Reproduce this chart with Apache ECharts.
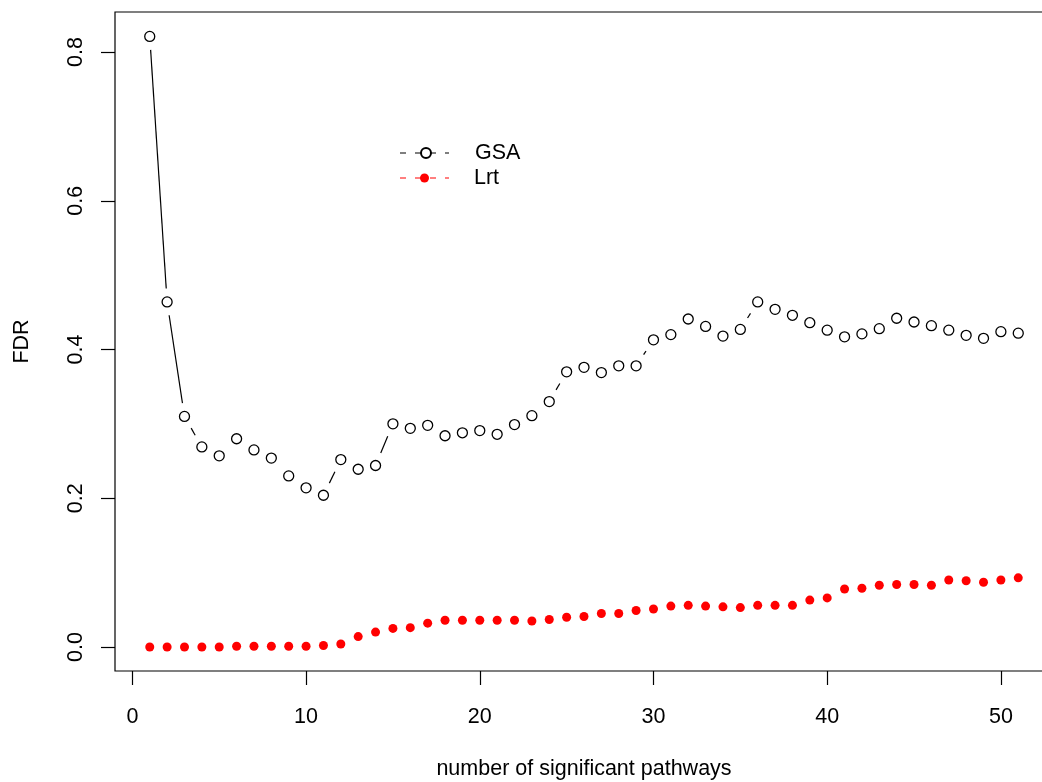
<!DOCTYPE html>
<html>
<head>
<meta charset="utf-8">
<title>FDR vs number of significant pathways</title>
<script src="https://cdn.jsdelivr.net/npm/echarts@6/dist/echarts.min.js"></script>
<style>
  html, body { margin: 0; padding: 0; background: #fff; }
  #chart { width: 1042px; height: 782px; }
</style>
</head>
<body>
<div id="chart"></div>
<script>
// number of significant pathways (x)
var pathways = [];
for (var k = 1; k <= 51; k++) pathways.push(k);

// FDR values
var gsa = [0.821, 0.464, 0.310, 0.269, 0.257, 0.280, 0.265, 0.254, 0.230, 0.214,
           0.204, 0.252, 0.239, 0.244, 0.300, 0.294, 0.298, 0.284, 0.288, 0.291,
           0.286, 0.299, 0.311, 0.330, 0.370, 0.376, 0.369, 0.378, 0.378, 0.413,
           0.420, 0.441, 0.431, 0.418, 0.427, 0.464, 0.454, 0.446, 0.436, 0.426,
           0.417, 0.421, 0.428, 0.442, 0.437, 0.432, 0.426, 0.419, 0.415, 0.424,
           0.422];
var lrt = [0.000, 0.000, 0.000, 0.000, 0.000, 0.001, 0.001, 0.001, 0.001, 0.001,
           0.002, 0.004, 0.014, 0.020, 0.025, 0.026, 0.032, 0.036, 0.036, 0.036,
           0.036, 0.036, 0.035, 0.037, 0.040, 0.041, 0.045, 0.045, 0.049, 0.051,
           0.055, 0.056, 0.055, 0.054, 0.053, 0.056, 0.056, 0.056, 0.063, 0.066,
           0.078, 0.079, 0.083, 0.084, 0.084, 0.083, 0.090, 0.089, 0.087, 0.090,
           0.093];

var xTicks = [0, 10, 20, 30, 40, 50];
var yTicks = [0, 0.2, 0.4, 0.6, 0.8];

var FONT = 'Liberation Sans, Arial, Helvetica, sans-serif';
var FS = 21.5;

function toPoints(xs, ys) {
  return xs.map(function (x, i) { return [x, ys[i]]; });
}

function toSegments(xs, ys) {
  var out = [];
  for (var i = 0; i < xs.length - 1; i++) out.push([xs[i], ys[i], xs[i + 1], ys[i + 1]]);
  return out;
}

// like R's type="b": each segment stops short of the points it joins
function gappedLine(gap, color) {
  return function (params, api) {
    var a = api.coord([api.value(0), api.value(1)]);
    var b = api.coord([api.value(2), api.value(3)]);
    var dx = b[0] - a[0], dy = b[1] - a[1];
    var len = Math.sqrt(dx * dx + dy * dy);
    if (len <= 2 * gap) return { type: 'group', children: [] };
    var ux = dx / len, uy = dy / len;
    return {
      type: 'line',
      shape: { x1: a[0] + ux * gap, y1: a[1] + uy * gap, x2: b[0] - ux * gap, y2: b[1] - uy * gap },
      style: { stroke: color, lineWidth: 1.2 }
    };
  };
}

function legendItem(name, top, iconSize) {
  return {
    data: [name], left: 420, top: top, padding: 0,
    itemWidth: iconSize, itemHeight: iconSize, selectedMode: false,
    formatter: function (n) { return '{gap| }' + n; },
    textStyle: {
      fontFamily: FONT, fontSize: FS, color: '#000',
      rich: { gap: { width: 49 - iconSize } }
    }
  };
}

var chart = echarts.init(document.getElementById('chart'), null, { renderer: 'canvas' });

var option = {
  backgroundColor: '#fff',
  animation: false,
  textStyle: { fontFamily: FONT },
  grid: {
    show: true, left: 115, top: 12, right: -11, bottom: 111,
    outerBoundsMode: 'none', containLabel: false,
    borderColor: '#000', borderWidth: 1.2, backgroundColor: 'transparent'
  },
  xAxis: {
    type: 'value', min: -1, max: 53,
    name: 'number of significant pathways', nameLocation: 'middle', nameGap: 87,
    nameTextStyle: { fontFamily: FONT, fontSize: FS, color: '#000' },
    axisLine: { show: false, onZero: false },
    splitLine: { show: false },
    axisTick: { show: true, inside: false, length: 14, customValues: xTicks,
                lineStyle: { color: '#000', width: 1.2 } },
    axisLabel: { show: true, customValues: xTicks, margin: 35,
                 fontFamily: FONT, fontSize: FS, color: '#000' }
  },
  yAxis: {
    type: 'value', min: -0.0323, max: 0.8538,
    name: 'FDR', nameLocation: 'middle', nameGap: 82, nameRotate: 90,
    nameTextStyle: { fontFamily: FONT, fontSize: FS, color: '#000' },
    axisLine: { show: false, onZero: false },
    splitLine: { show: false },
    axisTick: { show: true, inside: false, length: 14, customValues: yTicks,
                lineStyle: { color: '#000', width: 1.2 } },
    axisLabel: { show: true, customValues: yTicks, rotate: 90, margin: 28,
                 fontFamily: FONT, fontSize: FS, color: '#000',
                 formatter: function (v) { return v.toFixed(1); } }
  },
  legend: [legendItem('GSA', 142, 10), legendItem('Lrt', 167, 9)],
  graphic: [
    { type: 'line', z: 1, shape: { x1: 400, y1: 153, x2: 449, y2: 153 },
      style: { stroke: '#000', lineWidth: 1.2, lineDash: [6, 9] } },
    { type: 'line', z: 1, shape: { x1: 400, y1: 178, x2: 449, y2: 178 },
      style: { stroke: '#ff0000', lineWidth: 1.2, lineDash: [6, 9] } }
  ],
  series: [
    {
      type: 'custom', name: 'GSA-line', silent: true, clip: true,
      encode: { x: [0, 2], y: [1, 3] },
      data: toSegments(pathways, gsa),
      renderItem: gappedLine(13.5, '#000')
    },
    {
      type: 'custom', name: 'Lrt-line', silent: true, clip: true,
      encode: { x: [0, 2], y: [1, 3] },
      data: toSegments(pathways, lrt),
      renderItem: gappedLine(13.5, '#ff0000')
    },
    {
      type: 'scatter', name: 'GSA', z: 3,
      symbol: 'circle', symbolSize: 10,
      itemStyle: { color: '#fff', borderColor: '#000', borderWidth: 1.3, opacity: 1 },
      data: toPoints(pathways, gsa)
    },
    {
      type: 'scatter', name: 'Lrt', z: 3,
      symbol: 'circle', symbolSize: 9,
      itemStyle: { color: '#ff0000', borderWidth: 0, opacity: 1 },
      data: toPoints(pathways, lrt)
    }
  ]
};

chart.setOption(option);
</script>
</body>
</html>
